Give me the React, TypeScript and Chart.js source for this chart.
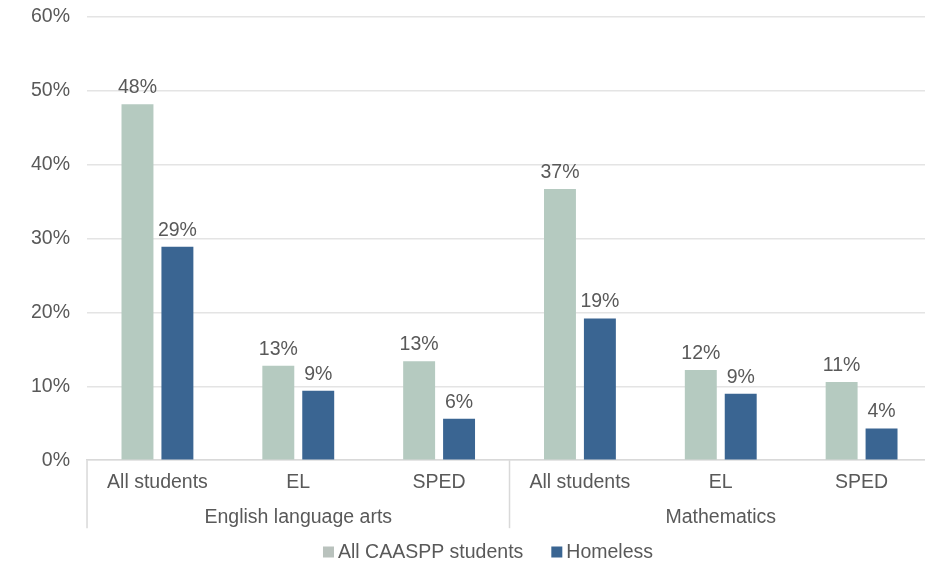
import React, { useEffect, useRef } from "react";
import { Chart, registerables } from "chart.js";

Chart.register(...registerables);

const subCategories = ["All students", "EL", "SPED", "All students", "EL", "SPED"];
const groupLabels = ["English language arts", "Mathematics"];
const allStudents = [48.2, 12.8, 13.4, 36.7, 12.2, 10.6];
const homeless = [28.9, 9.4, 5.6, 19.2, 9.0, 4.3];
const seriesNames = ["All CAASPP students", "Homeless"];
const seriesColors = ["#b5cac0", "#3a6592"];
const yTicks = [0, 10, 20, 30, 40, 50, 60];

const FONT = "'Liberation Sans', Arial, sans-serif";
const FS = 19.5;
const TEXT = "#595959";

const labelsPlugin = {
  id: "barLabels",
  afterDatasetsDraw(chart: any) {
    const ctx = chart.ctx;
    ctx.save();
    ctx.font = `${FS}px ${FONT}`;
    ctx.fillStyle = TEXT;
    ctx.textAlign = "center";
    ctx.textBaseline = "alphabetic";
    chart.data.datasets.forEach((ds: any, di: number) => {
      const meta = chart.getDatasetMeta(di);
      meta.data.forEach((bar: any, i: number) => {
        ctx.fillText(Math.round(ds.data[i]) + "%", bar.x, bar.y - 11);
      });
    });
    ctx.restore();
  },
};

const separatorsPlugin = {
  id: "separators",
  afterDraw(chart: any) {
    const ctx = chart.ctx;
    const x = chart.scales.x;
    const top = chart.chartArea.bottom;
    const bottom = top + 68;
    const n = subCategories.length;
    const step = (x.right - x.left) / n;
    const positions = [x.left, x.left + step * 3, x.right];
    ctx.save();
    ctx.strokeStyle = "#d9d9d9";
    ctx.lineWidth = 1.5;
    positions.forEach((px) => {
      ctx.beginPath();
      ctx.moveTo(px, top);
      ctx.lineTo(px, bottom);
      ctx.stroke();
    });
    // custom legend
    ctx.font = `${FS}px ${FONT}`;
    ctx.textBaseline = "middle";
    ctx.textAlign = "left";
    const box = 11;
    const gapBoxText = 4;
    const gapItems = 28;
    const widths = seriesNames.map((s) => ctx.measureText(s).width);
    const total =
      widths.reduce((a, b) => a + b, 0) + seriesNames.length * (box + gapBoxText) + gapItems * (seriesNames.length - 1);
    let cx = 488 - total / 2;
    const cy = 553;
    seriesNames.forEach((s, i) => {
      ctx.fillStyle = i === 0 ? "#b9c2bd" : seriesColors[i];
      ctx.fillRect(cx, cy - box / 2 - 1, box, box);
      cx += box + gapBoxText;
      ctx.fillStyle = TEXT;
      ctx.fillText(s, cx, cy);
      cx += widths[i] + gapItems;
    });
    ctx.restore();
  },
};

export default function App() {
  const ref = useRef<HTMLCanvasElement | null>(null);
  useEffect(() => {
    document.body.style.margin = "0";
    const chart = new Chart(ref.current as HTMLCanvasElement, {
      type: "bar",
      data: {
        labels: subCategories,
        datasets: [
          {
            label: seriesNames[0],
            data: allStudents,
            backgroundColor: seriesColors[0],
            categoryPercentage: 0.567,
            barPercentage: 0.8,
          },
          {
            label: seriesNames[1],
            data: homeless,
            backgroundColor: seriesColors[1],
            categoryPercentage: 0.567,
            barPercentage: 0.8,
          },
        ],
      },
      options: {
        animation: false,
        responsive: false,
        maintainAspectRatio: false,
        layout: { padding: { left: 14, right: 3, top: 17, bottom: 35 } },
        plugins: {
          legend: { display: false },
          tooltip: { enabled: false },
        },
        scales: {
          y: {
            min: 0,
            max: 60,
            afterBuildTicks(scale: any) {
              scale.ticks = yTicks.map((v) => ({ value: v }));
            },
            afterFit(scale: any) {
              scale.paddingTop = 11;
              scale.paddingBottom = 11;
            },
            ticks: {
              callback: (v: any) => v + "%",
              font: { family: FONT, size: FS },
              color: TEXT,
              padding: 17,
            },
            grid: { color: "#e4e4e4", lineWidth: 1.5, drawTicks: false },
            border: { display: false },
          },
          x: {
            ticks: {
              font: { family: FONT, size: FS },
              color: TEXT,
              padding: 11,
              maxRotation: 0,
              autoSkip: false,
            },
            grid: { display: false, drawTicks: false },
            border: { display: true, color: "#d9d9d9", width: 1.5 },
          },
          x2: {
            type: "category",
            position: "bottom",
            labels: groupLabels,
            offset: true,
            ticks: {
              font: { family: FONT, size: FS },
              color: TEXT,
              padding: 0,
              maxRotation: 0,
              autoSkip: false,
            },
            grid: { display: false, drawTicks: false },
            border: { display: false },
          },
        },
      },
      plugins: [labelsPlugin, separatorsPlugin],
    } as any);
    return () => chart.destroy();
  }, []);
  return (
    <div style={{ width: 925, height: 564, overflow: "hidden", position: "relative" }}>
      <canvas ref={ref} width={935} height={564} style={{ display: "block", width: 935, height: 564 }} />
    </div>
  );
}
